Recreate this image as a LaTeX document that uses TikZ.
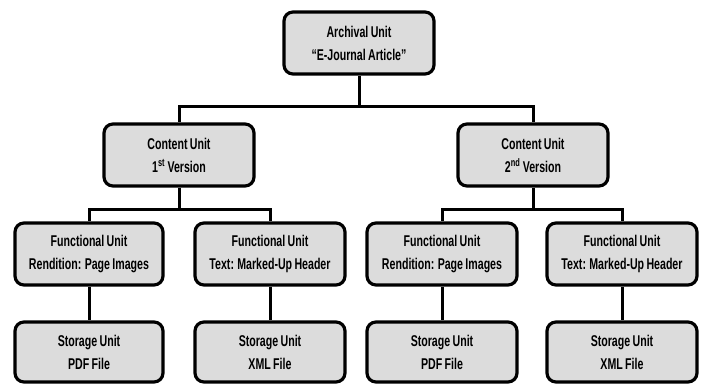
\documentclass[tikz,border=0pt]{standalone}
\usepackage{fontspec}
\setmainfont{Liberation Sans}[FakeStretch=0.68, WordSpace=0.8]
\begin{document}
\begin{tikzpicture}[x=1pt,y=-1pt,
  unit/.style={draw=black, line width=3.2pt, rounded corners=9pt, fill=boxgray,
    minimum width=150pt, minimum height=62pt, align=center,
    font=\bfseries\fontsize{15.6}{23}\selectfont, inner sep=0pt},
  link/.style={line width=3pt}]
\definecolor{boxgray}{RGB}{220,220,220}
\useasboundingbox (0,0) rectangle (703,384);
% archival level
\node[unit] (au) at (359,43) {Archival Unit\\“E-Journal Article”};
% content units
\node[unit] (cu1) at (179,155) {Content Unit\\1\textsuperscript{st} Version};
\node[unit] (cu2) at (533,155) {Content Unit\\2\textsuperscript{nd} Version};
% functional units
\node[unit, minimum width=148pt] (fu1) at (89,254) {Functional Unit\\Rendition: Page Images};
\node[unit] (fu2) at (270,254) {Functional Unit\\Text: Marked-Up Header};
\node[unit] (fu3) at (442,254) {Functional Unit\\Rendition: Page Images};
\node[unit] (fu4) at (622,254) {Functional Unit\\Text: Marked-Up Header};
% storage units
\node[unit, minimum width=148pt, minimum height=60pt] (su1) at (89,352) {Storage Unit\\PDF File};
\node[unit, minimum height=60pt] (su2) at (270,352) {Storage Unit\\XML File};
\node[unit, minimum height=60pt] (su3) at (442,352) {Storage Unit\\PDF File};
\node[unit, minimum height=60pt] (su4) at (622,352) {Storage Unit\\XML File};
% tree connectors
\draw[link] (au.south) -- ++(0,31) -| (cu1.north);
\draw[link] (au.south) ++(0,31) -| (cu2.north);
\draw[link] (cu1.south) -- ++(0,22) -| (fu1.north);
\draw[link] (cu1.south) ++(0,22) -| (fu2.north);
\draw[link] (cu2.south) -- ++(0,22) -| (fu3.north);
\draw[link] (cu2.south) ++(0,22) -| (fu4.north);
\draw[link] (fu1) -- (su1);
\draw[link] (fu2) -- (su2);
\draw[link] (fu3) -- (su3);
\draw[link] (fu4) -- (su4);
\end{tikzpicture}
\end{document}
